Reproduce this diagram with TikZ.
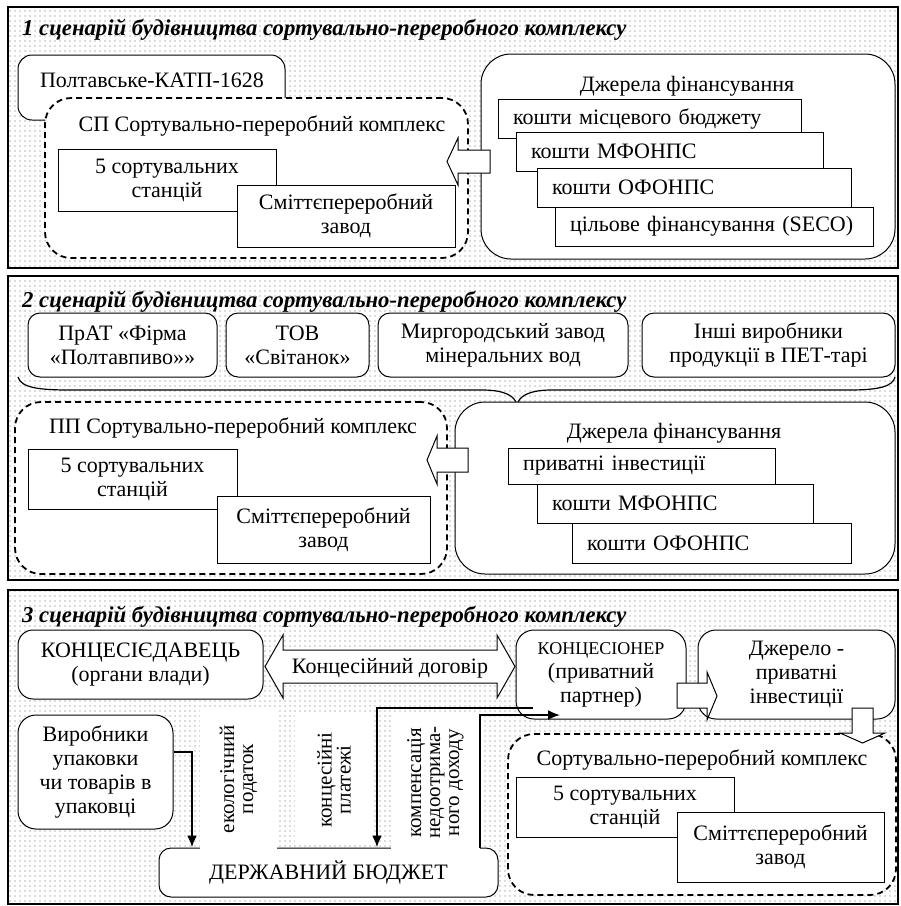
\documentclass[tikz,border=0pt]{standalone}
\usepackage{fontspec}
\setmainfont{Liberation Serif}
\usetikzlibrary{arrows.meta,patterns}
\pgfdeclarepatternformonly{pdots}{\pgfqpoint{-1pt}{-1pt}}{\pgfqpoint{1pt}{1pt}}{\pgfqpoint{5pt}{5pt}}{\pgfpathcircle{\pgfpointorigin}{0.6pt}\pgfusepath{fill}}

\begin{document}
\begin{tikzpicture}[x=1pt,y=-1pt,font=\fontsize{22}{24}\selectfont,
  panel/.style={draw,line width=2.6pt,pattern=pdots,pattern color=black!60},
  ttl/.style={anchor=west,inner sep=0pt,font=\fontsize{22.7}{24}\selectfont\bfseries\itshape},
  lbl/.style={inner sep=0pt,align=center},
  sbox/.style={draw,fill=white,line width=1pt,inner sep=0pt,align=center},
  rbox/.style={sbox,rounded corners=14pt},
  fbox/.style={sbox,align=left,inner xsep=15pt,minimum height=39pt},
  dbox/.style={draw,fill=white,line width=1.8pt,dash pattern=on 6pt off 4pt,rounded corners=26pt,inner sep=0pt},
  strip/.style={fill=white,inner sep=0pt,align=center,rotate=90,font=\fontsize{21}{19}\selectfont},
  barrow/.style={draw,fill=white,line width=1pt},
  flow/.style={line width=2.2pt,-{Latex[length=12pt,width=10pt]}},
  clamp/.style={line width=1.2pt}]
\useasboundingbox (0,0) rectangle (901,906);

% scenario 1
\draw[panel] (8,7) rectangle (898,268);
\node[ttl] (t1) at (22,30) {1 сценарій будівництва сортувально-переробного комплексу};
\node[rbox,minimum width=267pt,minimum height=65pt] (katp) at (151.5,87.5) {};
\node[lbl] (katpT) at (152,80) {Полтавське-КАТП-1628};
\node[dbox,minimum width=423pt,minimum height=160pt] (sp1) at (256.5,178) {};
\node[lbl] (sp1T) at (262,126) {СП Сортувально-переробний комплекс};
\node[sbox,minimum width=218pt,minimum height=62pt] (st1) at (167,180) {5 сортувальних\\станцій};
\node[sbox,minimum width=218pt,minimum height=62pt] (zv1) at (346,216) {Сміттєпереробний\\завод};
\node[rbox,rounded corners=30pt,minimum width=414pt,minimum height=205pt] (fin1) at (688,156.5) {};
\node[lbl] (fin1T) at (687,86) {Джерела фінансування};
\node[fbox,text width=273pt] (f11) at (649.5,118.5) {кошти місцевого бюджету};
\node[fbox,text width=277pt] (f12) at (669.5,151.5) {кошти МФОНПС};
\node[fbox,text width=284pt] (f13) at (694,187.5) {кошти ОФОНПС};
\node[fbox,text width=288pt] (f14) at (714,226.5) {цільове фінансування (SECO)};
\draw[barrow] (490,150) -- (458,150) -- (458,138) -- (447,161.5) -- (458,185) -- (458,173) -- (490,173) -- cycle;

% scenario 2
\draw[panel] (8,276) rectangle (898,580);
\node[ttl] (t2) at (22,302) {2 сценарій будівництва сортувально-переробного комплексу};
\node[rbox,rounded corners=12pt,minimum width=189pt,minimum height=64pt] (c1) at (122.5,345) {ПрАТ «Фірма\\«Полтавпиво»»};
\node[rbox,rounded corners=12pt,minimum width=143pt,minimum height=64pt] (c2) at (297.5,345) {ТОВ\\«Світанок»};
\node[rbox,rounded corners=12pt,minimum width=250pt,minimum height=64pt] (c3) at (503,345) {Миргородський завод\\мінеральних вод};
\node[rbox,rounded corners=12pt,minimum width=253pt,minimum height=64pt] (c4) at (768.5,345) {Інші виробники\\продукції в ПЕТ-тарі};
\draw[clamp] (18,377) .. controls (21,388) and (40,390) .. (70,390) -- (482,390)
  .. controls (505,390) and (515,396) .. (517,405) .. controls (519,396) and (529,390) .. (552,390)
  -- (850,390) .. controls (880,390) and (893,386) .. (895,377);
\node[dbox,minimum width=432pt,minimum height=172pt] (pp2) at (231,488) {};
\node[lbl] (pp2T) at (233,428) {ПП Сортувально-переробний комплекс};
\node[sbox,minimum width=209pt,minimum height=60pt] (st2) at (132.5,479) {5 сортувальних\\станцій};
\node[sbox,minimum width=213pt,minimum height=67pt] (zv2) at (323.5,529.5) {Сміттєпереробний\\завод};
\node[rbox,rounded corners=30pt,minimum width=440pt,minimum height=172pt] (fin2) at (675,488) {};
\node[lbl] (fin2T) at (674,433) {Джерела фінансування};
\node[fbox,text width=237pt,minimum height=36pt] (f21) at (641.5,466) {приватні інвестиції};
\node[fbox,text width=246pt] (f22) at (675,503.5) {кошти МФОНПС};
\node[fbox,text width=249pt,minimum height=40pt] (f23) at (711.5,543) {кошти ОФОНПС};
\draw[barrow] (468,448) -- (437,448) -- (437,436) -- (427,460) -- (437,484) -- (437,472) -- (468,472) -- cycle;

% scenario 3
\draw[panel] (8,590) rectangle (898,904);
\node[ttl] (t3) at (22,617) {3 сценарій будівництва сортувально-переробного комплексу};
\node[rbox,rounded corners=15pt,minimum width=245pt,minimum height=69pt] (kd) at (140.5,664.5) {КОНЦЕСІЄДАВЕЦЬ\\(органи влади)};
\draw[barrow] (265,666.5) -- (283,635) -- (283,650) -- (497,650) -- (497,635) -- (515,666.5)
  -- (497,698) -- (497,683) -- (283,683) -- (283,698) -- cycle;
\node[lbl] (dg) at (390,668) {Концесійний договір};
\node[rbox,rounded corners=18pt,minimum width=170pt,minimum height=89pt] (kn) at (601,674.5) {{\fontsize{18}{22}\selectfont КОНЦЕСІОНЕР}\\(приватний\\партнер)};
\node[rbox,rounded corners=18pt,minimum width=197pt,minimum height=89pt] (dj) at (796.5,674.5) {Джерело -\\приватні\\інвестиції};
\draw[barrow] (677,683) -- (707,683) -- (707,672) -- (717,696) -- (707,720) -- (707,708) -- (677,708) -- cycle;
\node[dbox,minimum width=388pt,minimum height=161pt] (sk3) at (702,814.5) {};
\draw[barrow] (852,708) -- (852,733) -- (840,733) -- (862.5,743) -- (885,733) -- (873,733) -- (873,708) -- cycle;
\node[lbl] (sk3T) at (702,760) {Сортувально-переробний комплекс};
\node[sbox,minimum width=218pt,minimum height=60pt] (st3) at (625,807) {5 сортувальних\\станцій};
\node[sbox,minimum width=207pt,minimum height=70pt] (zv3) at (780.5,847) {Сміттєпереробний\\завод};
\node[rbox,rounded corners=18pt,minimum width=155pt,minimum height=114pt] (vy) at (95.5,772) {Виробники\\упаковки\\чи товарів в\\упаковці};
\node[rbox,rounded corners=12pt,minimum width=339pt,minimum height=49pt] (bud) at (328.5,872.5) {ДЕРЖАВНИЙ БЮДЖЕТ};
\node[strip,minimum width=142pt,minimum height=77pt] (eco) at (238.5,779) {екологічний\\податок};
\node[strip,minimum width=130pt,minimum height=78pt] (pay) at (334,780) {концесійні\\платежі};
\node[strip,minimum width=135pt,minimum height=89pt] (comp) at (435.5,782.5) {компенсація\\недоотрима-\\ного доходу};
\coordinate (vyturn) at (192,752);
\coordinate (knout) at (533,708);
\coordinate (knturn) at (377,708);
\coordinate (cpturn) at (480,715);
\coordinate (knin) at (560,715);
\draw[flow] (vy.east |- vyturn) -- (vyturn) -- (vyturn |- bud.north);
\draw[flow] (knout) -- (knturn) -- (knturn |- bud.north);
\draw[flow,line width=1.8pt] (cpturn |- bud.north) -- (cpturn) -- (knin);
\end{tikzpicture}
\end{document}
